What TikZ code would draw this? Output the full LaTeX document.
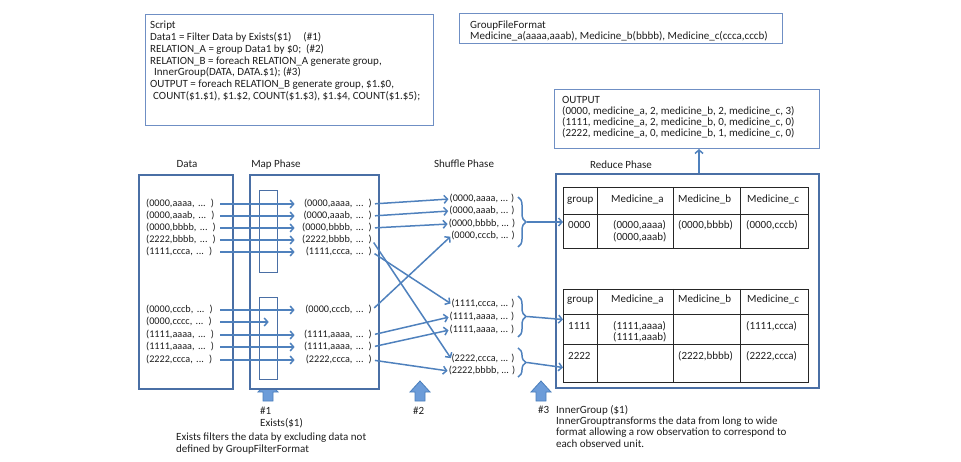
\documentclass[tikz,border=0pt]{standalone}
\usepackage{fontspec}
\setmainfont{Carlito}
\usetikzlibrary{arrows.meta,decorations.pathreplacing}
\definecolor{boxc}{HTML}{4A6FA5}
\definecolor{lboxc}{HTML}{6F8FC4}
\definecolor{arrc}{HTML}{4F81BD}
\definecolor{txtc}{HTML}{1E1E1E}
\definecolor{bafill}{HTML}{6C9CD9}
\definecolor{baedge}{HTML}{4A7EBB}
\begin{document}
\begin{tikzpicture}[x=1pt,y=-1pt,
  every node/.style={text=txtc},
  font=\fontsize{11}{12}\selectfont,
  bigbox/.style={draw=boxc, line width=1.6pt, fill=white, inner sep=0pt, anchor=north west},
  smallbox/.style={draw=lboxc, line width=1pt, inner sep=0pt, anchor=north west},
  filterbox/.style={draw=boxc, line width=1.4pt, inner sep=0pt, anchor=north west},
  lbl/.style={inner sep=0pt, text height=7.5pt, text depth=2.5pt},
  small/.style={font=\fontsize{10.2}{12}\selectfont},
  dtext/.style={lbl, small, anchor=west, text width=73pt, align=left},
  mtext/.style={lbl, small, anchor=east, text width=73pt, align=right},
  stext/.style={lbl, small},
  ctext/.style={lbl, anchor=west},
  mline/.style={inner sep=0pt, anchor=north west, align=left},
  arr/.style={draw=arrc, line width=1.5pt, -{Straight Barb[length=3.5pt,width=8pt,line width=1.5pt]}},
  brc/.style={draw=arrc, line width=1.5pt, decorate, decoration={brace, amplitude=8pt}},
  tab/.style={draw=black!85, line width=1pt},
  blockarrow/.style={draw=baedge, line width=0.8pt, fill=bafill},
]
\useasboundingbox (0,0) rectangle (961,462);

% ---------- top boxes ----------
\node[smallbox, minimum width=288pt, minimum height=111pt] (scriptbox) at (145,14) {};
\node[mline, font=\fontsize{11}{11.8}\selectfont] (script) at (150,21) {Script\\
Data1 = Filter Data by Exists(\$1)\hspace{12pt}(\#1)\\
RELATION\_A = group Data1 by \$0;\ \ (\#2)\\
RELATION\_B = foreach RELATION\_A generate group,\\
\hspace*{4pt}InnerGroup(DATA, DATA.\$1); (\#3)\\
OUTPUT = foreach RELATION\_B generate group, \$1.\$0,\\
\hspace*{3pt}COUNT(\$1.\$1), \$1.\$2, COUNT(\$1.\$3), \$1.\$4, COUNT(\$1.\$5);};

\node[smallbox, minimum width=323pt, minimum height=30pt] (gffbox) at (459,13) {};
\node[mline, font=\fontsize{11}{11}\selectfont] (gff) at (470,20.8) {GroupFileFormat\\
Medicine\_a(aaaa,aaab), Medicine\_b(bbbb), Medicine\_c(ccca,cccb)};

\node[smallbox, minimum width=265pt, minimum height=59pt] (outbox) at (554,89) {};
\node[mline, font=\fontsize{11}{11}\selectfont] (out) at (562,96.5) {OUTPUT\\
(0000, medicine\_a, 2, medicine\_b, 2, medicine\_c, 3)\\
(1111, medicine\_a, 2, medicine\_b, 0, medicine\_c, 0)\\
(2222, medicine\_a, 0, medicine\_b, 1, medicine\_c, 0)};

% ---------- block arrows ----------
\draw[blockarrow] (268,381) -- (278,392) -- (273,392) -- (273,401) -- (263,401) -- (263,392) -- (258,392) -- cycle;
\draw[blockarrow] (420,381) -- (430,392) -- (425,392) -- (425,401) -- (415,401) -- (415,392) -- (410,392) -- cycle;
\draw[blockarrow] (541,381) -- (551,392) -- (546,392) -- (546,401) -- (536,401) -- (536,392) -- (531,392) -- cycle;

% ---------- phase boxes ----------
\node[bigbox, minimum width=94pt, minimum height=214pt] (databox) at (138,174) {};
\node[bigbox, minimum width=129pt, minimum height=214pt] (mapbox) at (249,174) {};
\node[bigbox, minimum width=263pt, minimum height=214pt] (redbox) at (555,173) {};
\node[filterbox, minimum width=18pt, minimum height=82pt] (f1) at (259,190) {};
\node[filterbox, minimum width=18pt, minimum height=82pt] (f2) at (259,297) {};

% titles
\node[lbl] (tdata) at (187,165) {Data};
\node[lbl] (tmap) at (276,165) {Map Phase};
\node[lbl] (tshuf) at (464,165) {Shuffle Phase};
\node[lbl] (tred) at (621,166) {Reduce Phase};

% ---------- data texts ----------
\node[dtext] (d1) at (146,204) {(0000,aaaa, ... )};
\node[dtext] (d2) at (146,216) {(0000,aaab, ... )};
\node[dtext] (d3) at (146,228) {(0000,bbbb, ... )};
\node[dtext] (d4) at (146,240) {(2222,bbbb, ... )};
\node[dtext] (d5) at (146,252) {(1111,ccca, ... )};
\node[dtext] (d6) at (146,310) {(0000,cccb, ... )};
\node[dtext] (d7) at (146,322) {(0000,cccc, ... )};
\node[dtext] (d8) at (146,335) {(1111,aaaa, ... )};
\node[dtext] (d9) at (146,347) {(1111,aaaa, ... )};
\node[dtext] (d10) at (146,360) {(2222,ccca, ... )};

% ---------- map texts ----------
\node[mtext] (m1) at (372,204) {(0000,aaaa, ... )};
\node[mtext] (m2) at (372,216) {(0000,aaab, ... )};
\node[mtext] (m3) at (372,228) {(0000,bbbb, ... )};
\node[mtext] (m4) at (372,240) {(2222,bbbb, ... )};
\node[mtext] (m5) at (372,252) {(1111,ccca, ... )};
\node[mtext] (m6) at (372,310) {(0000,cccb, ... )};
\node[mtext] (m8) at (372,335) {(1111,aaaa, ... )};
\node[mtext] (m9) at (372,347) {(1111,aaaa, ... )};
\node[mtext] (m10) at (372,360) {(2222,ccca, ... )};

% ---------- shuffle texts ----------
\node[stext] (s1) at (482,199) {(0000,aaaa, ... )};
\node[stext] (s2) at (482,211) {(0000,aaab, ... )};
\node[stext] (s3) at (482,224) {(0000,bbbb, ... )};
\node[stext] (s4) at (483,236) {(0000,cccb, ... )};
\node[stext] (s5) at (483,304) {(1111,ccca, ... )};
\node[stext] (s6) at (482,317) {(1111,aaaa, ... )};
\node[stext] (s7) at (482,330) {(1111,aaaa, ... )};
\node[stext] (s8) at (483,359) {(2222,ccca, ... )};
\node[stext] (s9) at (482,371) {(2222,bbbb, ... )};

% braces
\draw[brc] (518,197) -- (518,247);
\coordinate (br1) at (527,222);
\draw[brc] (518,296) -- (518,337);
\coordinate (br2) at (527,316.5);
\draw[brc] (518,348) -- (518,377);
\coordinate (br3) at (527,362.5);

% ---------- data -> map arrows ----------
\foreach \a/\b in {d1/m1,d2/m2,d3/m3,d4/m4,d5/m5,d6/m6,d8/m8,d9/m9,d10/m10}
  \draw[arr, shorten <=1pt, shorten >=4pt] (\a.east) -- (\b.west);
\draw[arr, shorten <=1pt] (d7.east) -- (d7.east -| f2.center);

% ---------- map -> shuffle arrows ----------
\foreach \a/\b in {m1/s1,m2/s2,m3/s3,m4/s8,m5/s5,m6/s4,m8/s6,m9/s7,m10/s9}
  \draw[arr, shorten <=3pt, shorten >=1pt] (\a.east) -- (\b.west);

% ---------- tables ----------
\node[tab, inner sep=0pt, anchor=north west, minimum width=245pt, minimum height=61pt] (tab1) at (563,187) {};
\draw[tab] (563,215) -- (808,215);
\foreach \x in {597,673,740} \draw[tab] (\x,187) -- (\x,248);
\node[ctext] (h1a) at (567,200) {group};
\node[ctext] (h1b) at (611,200) {Medicine\_a};
\node[ctext] (h1c) at (678,200) {Medicine\_b};
\node[ctext] (h1d) at (747,200) {Medicine\_c};
\node[ctext] (r1a) at (568,226) {0000};
\node[ctext] (r1b) at (613,226) {(0000,aaaa)};
\node[ctext] (r1b2) at (613,238) {(0000,aaab)};
\node[ctext] (r1c) at (678,226) {(0000,bbbb)};
\node[ctext] (r1d) at (746,226) {(0000,cccb)};

\node[tab, inner sep=0pt, anchor=north west, minimum width=245pt, minimum height=93pt] (tab2) at (563,289) {};
\draw[tab] (563,315) -- (808,315);
\draw[tab] (563,344) -- (808,344);
\foreach \x in {597,673,740} \draw[tab] (\x,289) -- (\x,382);
\node[ctext] (h2a) at (567,300) {group};
\node[ctext] (h2b) at (611,300) {Medicine\_a};
\node[ctext] (h2c) at (678,300) {Medicine\_b};
\node[ctext] (h2d) at (747,300) {Medicine\_c};
\node[ctext] (r2a) at (568,327) {1111};
\node[ctext] (r2b) at (613,327) {(1111,aaaa)};
\node[ctext] (r2b2) at (613,338) {(1111,aaab)};
\node[ctext] (r2d) at (746,327) {(1111,ccca)};
\node[ctext] (r3a) at (568,357) {2222};
\node[ctext] (r3c) at (678,357) {(2222,bbbb)};
\node[ctext] (r3d) at (746,357) {(2222,ccca)};

% brace -> table arrows
\draw[arr] (br1) -- (br1 -| tab1.west);
\draw[arr] (br2) -- ([yshift=-3pt]br2 -| tab2.west);
\draw[arr] (br3) -- ([yshift=-5pt]br3 -| tab2.west);

% reduce -> output
\coordinate (rtop) at (699,173);
\draw[arr] (rtop) -- (rtop |- outbox.south);

% ---------- bottom notes ----------
\node[mline, font=\fontsize{11}{12.5}\selectfont] (n1) at (260,406.5) {\#1\\Exists(\$1)};
\node[mline, font=\fontsize{11}{11.5}\selectfont] (n1b) at (176,432.8) {Exists filters the data by excluding data not\\defined by GroupFilterFormat};
\node[mline] (n2) at (413,406.5) {\#2};
\node[mline] (n3) at (538,405.5) {\#3};
\node[mline, font=\fontsize{11}{11.4}\selectfont] (n3b) at (556,404.8) {InnerGroup (\$1)\\InnerGrouptransforms the data from long to wide\\format allowing a row observation to correspond to\\each observed unit.};
\end{tikzpicture}
\end{document}
